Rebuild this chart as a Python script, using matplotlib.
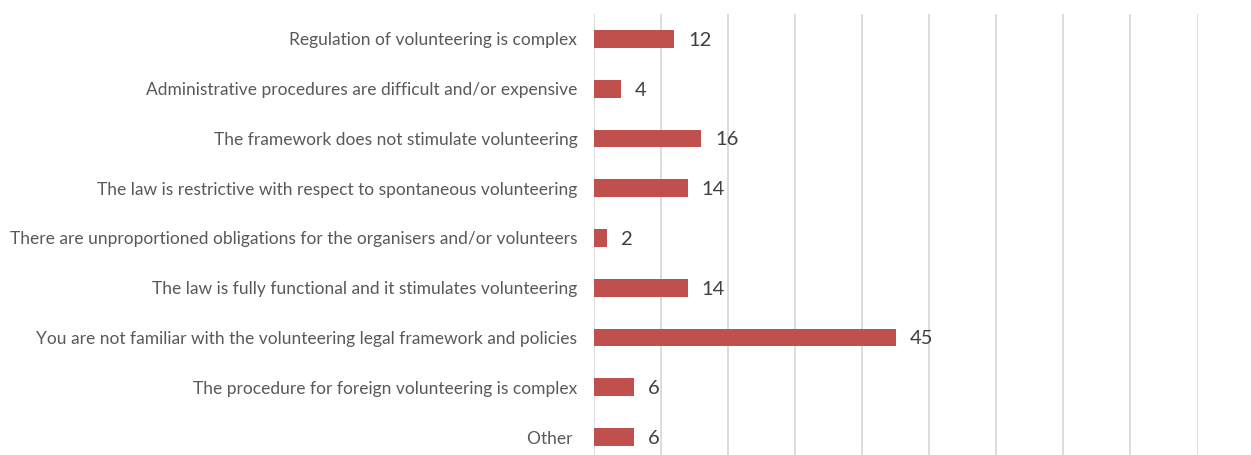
import matplotlib.pyplot as plt
import numpy as np

categories = [
    'Regulation of volunteering is complex',
    'Administrative procedures are difficult and/or expensive',
    'The framework does not stimulate volunteering',
    'The law is restrictive with respect to spontaneous volunteering',
    'There are unproportioned obligations for the organisers and/or volunteers',
    'The law is fully functional and it stimulates volunteering',
    'You are not familiar with the volunteering legal framework and policies',
    'The procedure for foreign volunteering is complex',
    'Other ',
]
counts = [12, 4, 16, 14, 2, 14, 45, 6, 6]

plt.rcParams['font.family'] = ['Lato', 'DejaVu Sans']

fig = plt.figure(figsize=(12.51, 4.55), dpi=100)
ax = fig.add_axes([594 / 1251, -7 / 455, 603.5 / 1251, 448 / 455])

y = np.arange(len(categories))
bars = ax.barh(y, counts, height=0.355, color='#c0504d', zorder=3)

for b, v in zip(bars, counts):
    ax.annotate(str(v), xy=(b.get_width(), b.get_y() + b.get_height() / 2),
                xytext=(10, -1), textcoords='offset points', ha='left', va='center',
                fontsize=14.5, color='#404040')

ax.set_xlim(0, 90)
ax.set_ylim(len(categories) - 0.5, -0.5)
ax.set_xticks(np.arange(0, 91, 10))
ax.set_yticks(y)
ax.set_yticklabels(categories, fontsize=12.5, color='#595959')
ax.tick_params(axis='y', length=0, pad=12)
ax.tick_params(axis='x', length=0, labelbottom=False)
ax.grid(axis='x', color='#d9d9d9', linewidth=1.3, zorder=0)
for s in ax.spines.values():
    s.set_visible(False)

fig.savefig('out.png', dpi=100)
